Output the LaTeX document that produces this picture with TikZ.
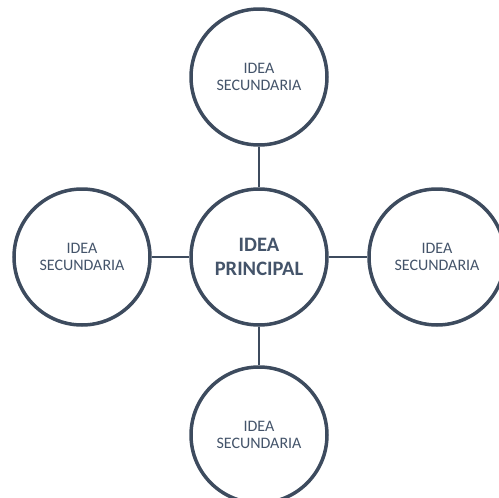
\documentclass[tikz,border=0pt]{standalone}
\usepackage{fontspec}
\setmainfont{Carlito}
\definecolor{slate}{HTML}{44546A}
\definecolor{edge}{HTML}{3D4B5E}
\begin{document}
\begin{tikzpicture}[x=1pt,y=-1pt,
  idea/.style={circle,draw=edge,line width=3.5pt,fill=white,minimum size=136pt,inner sep=0pt,
    text=slate,align=center,font=\fontsize{16}{17}\selectfont},
  main/.style={idea,font=\fontsize{20.5}{23.5}\selectfont\bfseries},
  link/.style={draw=edge,line width=2.8pt}]
\useasboundingbox (0,0) rectangle (499,498);
\node[main] (c) at (259,257) {IDEA\\PRINCIPAL};
\node[idea] (t) at (259,77) {IDEA\\SECUNDARIA};
\node[idea] (l) at (82,257) {IDEA\\SECUNDARIA};
\node[idea] (r) at (437,257) {IDEA\\SECUNDARIA};
\node[idea] (b) at (259,435) {IDEA\\SECUNDARIA};
\draw[link] (c) -- (t);
\draw[link] (c) -- (l);
\draw[link] (c) -- (r);
\draw[link] (c) -- (b);
\end{tikzpicture}
\end{document}
